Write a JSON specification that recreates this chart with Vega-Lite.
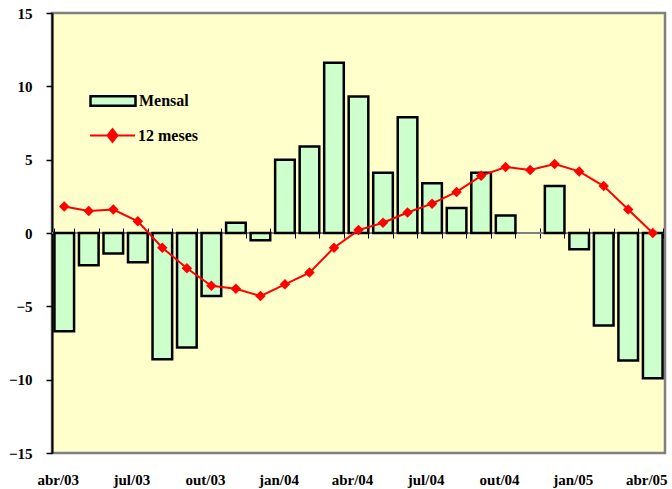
{
  "$schema": "https://vega.github.io/schema/vega-lite/v6.json",
  "width": 613,
  "height": 440,
  "autosize": {"type": "none"},
  "padding": {"left": 52, "top": 13, "right": 7, "bottom": 36},
  "background": "white",
  "config": {
    "view": {"fill": "#FFFFCC", "stroke": "#808080", "strokeWidth": 2.5},
    "font": "Times New Roman, Liberation Serif, serif",
    "axisY": {
      "grid": false,
      "domainColor": "black", "domainWidth": 2, "tickColor": "black", "tickSize": 6, "tickWidth": 1.5,
      "labelPadding": 14, "labelFont": "Times New Roman, Liberation Serif, serif", "labelFontSize": 15, "labelFontWeight": "bold", "labelColor": "black",
      "zindex": 1
    }
  },
  "data": {
    "values": [
      {"mes": "abr/03", "mensal": -6.7, "doze": 1.8},
      {"mes": "mai/03", "mensal": -2.2, "doze": 1.5},
      {"mes": "jun/03", "mensal": -1.4, "doze": 1.6},
      {"mes": "jul/03", "mensal": -2.0, "doze": 0.8},
      {"mes": "ago/03", "mensal": -8.6, "doze": -1.0},
      {"mes": "set/03", "mensal": -7.8, "doze": -2.4},
      {"mes": "out/03", "mensal": -4.3, "doze": -3.6},
      {"mes": "nov/03", "mensal": 0.7, "doze": -3.8},
      {"mes": "dez/03", "mensal": -0.5, "doze": -4.3},
      {"mes": "jan/04", "mensal": 5.0, "doze": -3.5},
      {"mes": "fev/04", "mensal": 5.9, "doze": -2.7},
      {"mes": "mar/04", "mensal": 11.6, "doze": -1.0},
      {"mes": "abr/04", "mensal": 9.3, "doze": 0.2},
      {"mes": "mai/04", "mensal": 4.1, "doze": 0.7},
      {"mes": "jun/04", "mensal": 7.9, "doze": 1.4},
      {"mes": "jul/04", "mensal": 3.4, "doze": 2.0},
      {"mes": "ago/04", "mensal": 1.7, "doze": 2.8},
      {"mes": "set/04", "mensal": 4.1, "doze": 3.9},
      {"mes": "out/04", "mensal": 1.2, "doze": 4.5},
      {"mes": "nov/04", "mensal": null, "doze": 4.3},
      {"mes": "dez/04", "mensal": 3.2, "doze": 4.7},
      {"mes": "jan/05", "mensal": -1.1, "doze": 4.2},
      {"mes": "fev/05", "mensal": -6.3, "doze": 3.2},
      {"mes": "mar/05", "mensal": -8.7, "doze": 1.6},
      {"mes": "abr/05", "mensal": -9.9, "doze": 0.0}
    ]
  },
  "resolve": {"axis": {"x": "independent"}},
  "layer": [
    {
      "mark": {"type": "rule", "color": "#808080", "strokeWidth": 1},
      "encoding": {
        "y": {"datum": 0, "type": "quantitative", "scale": {"domain": [-15, 15], "nice": false}, "axis": {"title": null, "values": [-15, -10, -5, 0, 5, 10, 15]}}
      }
    },
    {
      "mark": {"type": "bar", "stroke": "black", "strokeWidth": 2.5},
      "encoding": {
        "x": {
          "field": "mes", "type": "ordinal", "sort": null,
          "scale": {
            "domain": ["abr/03", "mai/03", "jun/03", "jul/03", "ago/03", "set/03", "out/03", "nov/03", "dez/03", "jan/04", "fev/04", "mar/04", "abr/04", "mai/04", "jun/04", "jul/04", "ago/04", "set/04", "out/04", "nov/04", "dez/04", "jan/05", "fev/05", "mar/05", "abr/05"],
            "paddingInner": 0.2, "paddingOuter": 0.1
          },
          "axis": {
            "orient": "bottom", "title": null, "ticks": false, "domain": false,
            "labelAngle": 0, "labelPadding": 19, "labelOffset": -6,
            "labelFont": "Times New Roman, Liberation Serif, serif", "labelFontSize": 15, "labelFontWeight": "bold", "labelColor": "black",
            "values": ["abr/03", "jul/03", "out/03", "jan/04", "abr/04", "jul/04", "out/04", "jan/05", "abr/05"]
          }
        },
        "y": {"field": "mensal", "type": "quantitative", "axis": {"title": null, "values": [-15, -10, -5, 0, 5, 10, 15]}},
        "fill": {
          "datum": "Mensal",
          "scale": {"range": ["#CCFFCC"]},
          "legend": {
            "orient": "none", "legendX": 37, "legendY": 64, "title": null, "padding": 0,
            "symbolType": "M-1,-0.21H1V0.21H-1Z", "symbolSize": 2025,
            "symbolStrokeColor": "black", "symbolStrokeWidth": 2.5,
            "labelOffset": 2, "labelFont": "Times New Roman, Liberation Serif, serif", "labelFontSize": 16, "labelFontWeight": "bold", "labelColor": "black"
          }
        }
      }
    },
    {
      "mark": {"type": "line", "strokeWidth": 2},
      "encoding": {
        "x": {"field": "mes", "type": "ordinal", "sort": null, "axis": null},
        "y": {"field": "doze", "type": "quantitative", "axis": {"title": null, "values": [-15, -10, -5, 0, 5, 10, 15]}},
        "stroke": {
          "datum": "12 meses",
          "scale": {"range": ["#FF0000"]},
          "legend": {
            "orient": "none", "legendX": 37, "legendY": 99, "title": null, "padding": 0,
            "symbolType": "M-1,0H1M0,-0.28L0.22,0L0,0.28L-0.22,0Z", "symbolSize": 2025,
            "symbolFillColor": "#FF0000", "symbolStrokeWidth": 2,
            "labelOffset": 2, "labelFont": "Times New Roman, Liberation Serif, serif", "labelFontSize": 16, "labelFontWeight": "bold", "labelColor": "black"
          }
        }
      }
    },
    {
      "mark": {"type": "point", "shape": "diamond", "filled": true, "color": "#FF0000", "size": 110, "opacity": 1},
      "encoding": {
        "x": {
          "field": "mes", "type": "ordinal", "sort": null,
          "axis": {
            "orient": "top", "offset": -225, "title": null, "labels": false, "domain": false, "grid": false,
            "tickBand": "extent", "tickSize": 10, "tickColor": "black", "tickWidth": 1
          }
        },
        "y": {"field": "doze", "type": "quantitative", "axis": {"title": null, "values": [-15, -10, -5, 0, 5, 10, 15]}}
      }
    }
  ]
}
